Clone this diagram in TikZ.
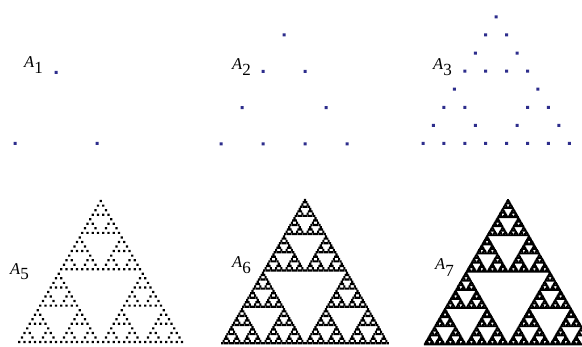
\documentclass[tikz,border=0pt]{standalone}
\usepackage{fontspec}
\setmainfont{Liberation Serif}
\definecolor{dotblue}{RGB}{45,45,140}
\newdimen\sds
\newdimen\sdh
\def\sierpdot#1#2{\pgfpathrectangle{\pgfqpoint{\dimexpr#1-\sdh\relax}{\dimexpr#2-\sdh\relax}}{\pgfqpoint{\sds}{\sds}}}
\def\sierp#1#2#3#4{%
  \ifnum#1=0
    \edef\sierpnext{\noexpand\sierpdot{#2}{#3}}%
  \else
    \edef\sierpnext{%
      \noexpand\sierp{\the\numexpr#1-1\relax}{#2}{#3}{\the\dimexpr#4/2\relax}%
      \noexpand\sierp{\the\numexpr#1-1\relax}{\the\dimexpr#2+#4\relax}{#3}{\the\dimexpr#4/2\relax}%
      \noexpand\sierp{\the\numexpr#1-1\relax}{\the\dimexpr#2+#4/2\relax}{\the\dimexpr#3+#4*866/1000\relax}{\the\dimexpr#4/2\relax}%
    }%
  \fi
  \sierpnext}
% level, x, y, d, dot size, colour
\newcommand\sierppanel[6]{%
  \begin{pgfscope}%
    \pgfsetfillcolor{#6}%
    \sds=#5\relax\sdh=0.5\sds
    \sierp{#1}{#2}{#3}{#4}%
    \pgfusepath{fill}%
  \end{pgfscope}}
\tikzset{lbl/.style={anchor=base west, inner sep=0pt, font=\fontsize{16.5}{16.5}\selectfont}}
\begin{document}
\begin{tikzpicture}[x=1pt,y=1pt]
\useasboundingbox[fill=white] (0,0) rectangle (582,346);
\sierppanel{1}{15pt}{202.5pt}{82pt}{3pt}{dotblue}
\sierppanel{2}{221pt}{202pt}{84pt}{3pt}{dotblue}
\sierppanel{3}{423pt}{202.5pt}{83.6pt}{3pt}{dotblue}
\sierppanel{5}{19.3pt}{4pt}{84pt}{2.2pt}{black}
\sierppanel{6}{222.3pt}{2.8pt}{84pt}{2.2pt}{black}
\sierppanel{7}{424.7pt}{1.6pt}{84pt}{1.9pt}{black}
\node[lbl] (l1) at (24,278) {\textit{A}\raisebox{-6pt}{\fontsize{17}{17}\selectfont 1}};
\node[lbl] (l2) at (232,276) {\textit{A}\raisebox{-6pt}{\fontsize{17}{17}\selectfont 2}};
\node[lbl] (l3) at (433,276) {\textit{A}\raisebox{-6pt}{\fontsize{17}{17}\selectfont 3}};
\node[lbl] (l5) at (10,71) {\textit{A}\raisebox{-5pt}{\fontsize{17}{17}\selectfont 5}};
\node[lbl] (l6) at (232,78) {\textit{A}\raisebox{-6pt}{\fontsize{17}{17}\selectfont 6}};
\node[lbl] (l7) at (435,76) {\textit{A}\raisebox{-6pt}{\fontsize{17}{17}\selectfont 7}};
\end{tikzpicture}
\end{document}
